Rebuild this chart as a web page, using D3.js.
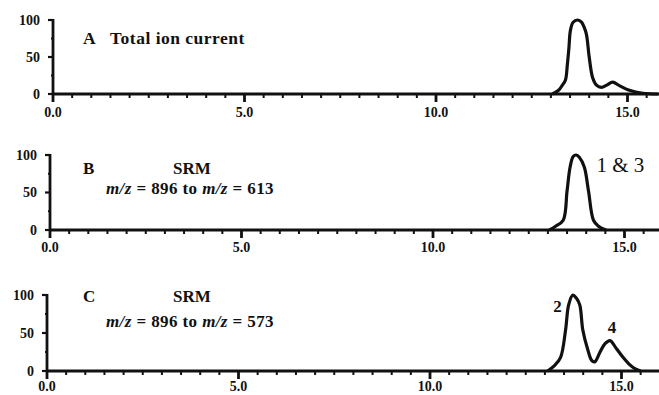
<!DOCTYPE html>
<html>
<head>
<meta charset="utf-8">
<script src="https://cdn.jsdelivr.net/npm/d3@7"></script>
<style>
  body { margin: 0; background: #fff; }
  svg { display: block; }
  text { font-family: "Liberation Serif", "Times New Roman", serif; fill: #111; }
</style>
</head>
<body>
<div id="chart"></div>
<script>
const W = 659, H = 395

// retention time (min) and relative intensity (%)
const timeA = [13.04, 13.2, 13.3, 13.38, 13.43, 13.47, 13.51, 13.58, 13.7, 13.8, 13.87, 13.93, 14.0, 14.09, 14.19, 14.32, 14.46, 14.61, 14.8, 15.05, 15.4, 15.8]
const intensityA = [0, 5, 12, 19, 40, 62, 86, 97, 100, 97, 90, 80, 50, 22, 12, 9, 12, 16, 11, 5, 1, 0]

const timeB = [13.04, 13.2, 13.4, 13.5, 13.58, 13.66, 13.74, 13.82, 13.95, 14.06, 14.19, 14.32, 14.52]
const intensityB = [0, 5, 13, 52, 84, 98, 100, 97, 84, 52, 13, 5, 0]

const timeC = [13.07, 13.25, 13.41, 13.54, 13.62, 13.73, 13.82, 13.91, 13.99, 14.12, 14.22, 14.3, 14.44, 14.57, 14.7, 14.86, 15.04, 15.22, 15.35, 15.5]
const intensityC = [0, 7, 18, 54, 87, 100, 96, 87, 54, 28, 14, 12, 25, 36, 40, 30, 18, 8, 3, 0]

const xTickLabels = ["0.0", "5.0", "10.0", "15.0"]
const xTickValues = [0, 5, 10, 15]
const yTickValues = [0, 50, 100]

const panelNames = ["A", "B", "C"]
const panelTimes = [timeA, timeB, timeC]
const panelValues = [intensityA, intensityB, intensityC]

// layout of each panel: x of time zero, y of 0 % and y of 100 %
const layout = [
  {x0: 53, zero: 94, top: 20, lab: 23},
  {x0: 50, zero: 230, top: 155, lab: 22},
  {x0: 47, zero: 371, top: 295, lab: 20}
]
const pxPerMin = 38.3

const svg = d3.select("#chart")
  .append("svg")
  .attr("width", W)
  .attr("height", H)

panelNames.forEach((name, i) => {
  const L = layout[i]
  const x = d3.scaleLinear().domain([0, 16]).range([L.x0, L.x0 + 16 * pxPerMin])
  const y = d3.scaleLinear().domain([0, 100]).range([L.zero, L.top])
  const g = svg.append("g").attr("class", "panel-" + name)

  // x axis line
  g.append("line")
    .attr("x1", L.x0).attr("x2", W)
    .attr("y1", L.zero).attr("y2", L.zero)
    .attr("stroke", "#111").attr("stroke-width", 2.8)

  // x ticks every 0.5 min, longer at whole 5 min
  const ticks = d3.range(0, 16.01, 0.5).filter(t => x(t) <= W)
  g.selectAll(".xtick")
    .data(ticks)
    .enter()
    .append("line")
    .attr("x1", d => x(d)).attr("x2", d => x(d))
    .attr("y1", L.zero)
    .attr("y2", d => L.zero + (d % 5 === 0 ? 8 : 4))
    .attr("stroke", "#111")
    .attr("stroke-width", d => d % 5 === 0 ? 2.8 : 2)

  g.selectAll(".xlabel")
    .data(xTickValues)
    .enter()
    .append("text")
    .attr("x", d => x(d))
    .attr("y", L.zero + L.lab)
    .attr("text-anchor", "middle")
    .style("font-size", "14px")
    .style("font-weight", "bold")
    .text((d, j) => xTickLabels[j])

  // y axis
  g.append("line")
    .attr("x1", L.x0).attr("x2", L.x0)
    .attr("y1", y(100) - 1).attr("y2", L.zero)
    .attr("stroke", "#111").attr("stroke-width", 2.8)

  g.selectAll(".ytick")
    .data([0, 25, 50, 75, 100])
    .enter()
    .append("line")
    .attr("x1", d => L.x0 - (d % 50 === 0 ? 5 : 2))
    .attr("x2", L.x0)
    .attr("y1", d => y(d)).attr("y2", d => y(d))
    .attr("stroke", "#111").attr("stroke-width", 2.2)

  g.selectAll(".ylabel")
    .data(yTickValues)
    .enter()
    .append("text")
    .attr("x", L.x0 - 13)
    .attr("y", d => y(d) + 4.5)
    .attr("text-anchor", "end")
    .style("font-size", "14px")
    .style("font-weight", "bold")
    .text(d => d)

  // trace
  const pts = panelTimes[i].map((t, j) => [t, panelValues[i][j]])
  const line = d3.line()
    .x(d => x(d[0]))
    .y(d => y(d[1]))
    .curve(d3.curveCatmullRom.alpha(0.5))
  g.append("path")
    .datum(pts)
    .attr("d", line)
    .attr("fill", "none")
    .attr("stroke", "#111")
    .attr("stroke-width", 3.2)
    .attr("stroke-linejoin", "round")
})

// panel titles
svg.append("text").attr("x", 83).attr("y", 44)
  .style("font-size", "17.5px").style("font-weight", "bold").text("A")
svg.append("text").attr("x", 110).attr("y", 44)
  .style("font-size", "17.5px").style("font-weight", "bold")
  .style("letter-spacing", "0.5px").text("Total ion current")

const srmTitles = [
  {letter: "B", y1: 174, y2: 194, to: "613"},
  {letter: "C", y1: 302, y2: 327, to: "573"}
]
srmTitles.forEach(s => {
  svg.append("text").attr("x", 83).attr("y", s.y1)
    .style("font-size", "17px").style("font-weight", "bold").text(s.letter)
  svg.append("text").attr("x", 192).attr("y", s.y1)
    .attr("text-anchor", "middle")
    .style("font-size", "17px").style("font-weight", "bold").text("SRM")
  const t = svg.append("text").attr("x", 190).attr("y", s.y2)
    .attr("text-anchor", "middle")
    .style("font-size", "17px").style("font-weight", "bold")
    .style("letter-spacing", "0.4px")
  t.append("tspan").style("font-style", "italic").text("m/z")
  t.append("tspan").text(" = 896 to ")
  t.append("tspan").style("font-style", "italic").text("m/z")
  t.append("tspan").text(" = " + s.to)
})

// peak labels
const peakLabels = ["1 & 3", "2", "4"]
const peakPanel = [1, 2, 2]
const peakTime = [14.27, 13.44, 14.75]
const peakValue = [77, 78, 50]
peakLabels.forEach((lab, k) => {
  const L = layout[peakPanel[k]]
  const x = d3.scaleLinear().domain([0, 16]).range([L.x0, L.x0 + 16 * pxPerMin])
  const y = d3.scaleLinear().domain([0, 100]).range([L.zero, L.top])
  svg.append("text")
    .attr("x", x(peakTime[k]))
    .attr("y", y(peakValue[k]))
    .attr("text-anchor", k === 0 ? "start" : (k === 1 ? "end" : "middle"))
    .style("font-size", k === 0 ? "21px" : "17px")
    .style("font-weight", k === 0 ? "normal" : "bold")
    .text(lab)
})
</script>
</body>
</html>
